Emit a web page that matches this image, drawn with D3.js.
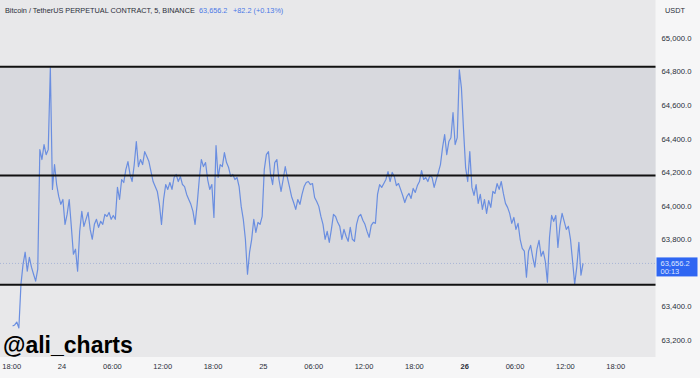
<!DOCTYPE html>
<html>
<head>
<meta charset="utf-8">
<script src="https://cdn.jsdelivr.net/npm/d3@7"></script>
<style>
  body { margin: 0; background: #f6f6f7; }
  svg { display: block; font-family: "Liberation Sans", Arial, sans-serif; }
</style>
</head>
<body>
<svg id="drawing_region"></svg>
<script>
// BTCUSDT perpetual, sampled every 15 minutes from the 5 min chart
const startTime = '2024-09-23T18:10:00Z';
const stepMinutes = 15;
const prices = [
    63284, 63290, 63307, 63272, 63533, 63652, 63723, 63610, 63693, 63634,
    63592, 63551, 63622, 64334, 64275, 64364, 64304, 64334, 64821, 64097,
    64245, 64126, 64055, 64008, 64037, 63889, 63948, 64037, 63877, 63711,
    63741, 63610, 63847, 63966, 63877, 63919, 63960, 63859, 63800, 63889,
    63919, 63871, 63907, 63889, 63948, 63936, 63960, 63919, 63942, 63919,
    64109, 64037, 64156, 64138, 64215, 64263, 64186, 64144, 64245, 64382,
    64233, 64275, 64245, 64322, 64293, 64263, 64203, 64144, 64114, 64085,
    64008, 63889, 64037, 64126, 64097, 64138, 64097, 64168, 64186, 64144,
    64174, 64126, 64114, 64067, 64037, 64008, 63966, 63889, 64008, 64156,
    64275, 64233, 64257, 64156, 64097, 64126, 63930, 64358, 64168, 64245,
    64233, 64316, 64257, 64227, 64174, 64186, 64156, 64168, 64114, 63996,
    63919, 63800, 63592, 63723, 63800, 63919, 63841, 63901, 63889, 63936,
    64215, 64304, 64322, 64186, 64126, 64257, 64275, 64156, 64085, 64156,
    64233, 64168, 64114, 64055, 64019, 63978, 64037, 64008, 64067, 64114,
    64138, 64144, 64126, 64132, 64049, 64025, 63996, 63936, 63889, 63800,
    63847, 63782, 63859, 63948, 63936, 63901, 63877, 63800, 63859, 63818,
    63788, 63871, 63800, 63788, 63889, 63936, 63948, 63913, 63889, 63847,
    63812, 63883, 63901, 63895, 64067, 64126, 64109, 64132, 64156, 64203,
    64144, 64198, 64174, 64120, 64132, 64097, 64061, 64019, 64055, 64073,
    64043, 64103, 64079, 64120, 64144, 64209, 64156, 64168, 64144, 64180,
    64168, 64109, 64156, 64198, 64245, 64346, 64423, 64304, 64382, 64405,
    64554, 64364, 64405, 64809, 64702, 64453, 64227, 64144, 64322, 64109,
    64061, 64126, 64014, 64067, 63978, 64037, 63954, 64031, 63990, 64085,
    64073, 64132, 64097, 64144, 64073, 64014, 63990, 63954, 63895, 63930,
    63859, 63895, 63800, 63746, 63729, 63574, 63729, 63764, 63693, 63634,
    63741, 63794, 63699, 63729, 63669, 63545, 63812, 63942, 63907, 63942,
    63752, 63883, 63954, 63907, 63859, 63877, 63800, 63669, 63533, 63634,
    63782, 63586, 63656.2
];

// drawn horizontal levels (top, middle, bottom of the range)
const levels = [64828, 64180, 63530];
const yTicks = [63200, 63400, 63800, 64000, 64200, 64400, 64600, 64800, 65000];
const xTicks = [
    '2024-09-23T18:00Z', '2024-09-24T00:00Z', '2024-09-24T06:00Z', '2024-09-24T12:00Z',
    '2024-09-24T18:00Z', '2024-09-25T00:00Z', '2024-09-25T06:00Z', '2024-09-25T12:00Z',
    '2024-09-25T18:00Z', '2024-09-26T00:00Z', '2024-09-26T06:00Z', '2024-09-26T12:00Z',
    '2024-09-26T18:00Z'
];
const title = 'Bitcoin / TetherUS PERPETUAL CONTRACT, 5, BINANCE';
const lastPrice = 63656.2;
const change = '+82.2 (+0.13%)';
const countdown = '00:13';

const W = 700, H = 378;
const plotW = 655.5, plotH = 357;

const t0 = new Date(startTime);
const data = prices.map((p, i) => ({
    t: new Date(t0.getTime() + i * stepMinutes * 60000),
    p: p
}));

const svg = d3.select('#drawing_region')
    .attr('width', W)
    .attr('height', H);

const xscale = d3.scaleUtc()
    .domain([new Date('2024-09-23T16:40:00Z'), new Date('2024-09-26T22:48:00Z')])
    .range([0, plotW]);

const yscale = d3.scaleLinear()
    .domain([63099, 65225])
    .range([plotH, 0]);

// backgrounds
svg.append('rect')
    .attr('width', W).attr('height', H)
    .attr('fill', '#f6f6f7');

svg.append('rect')
    .attr('width', plotW).attr('height', plotH)
    .attr('fill', '#e8e8ea');

svg.append('rect')
    .attr('x', 0)
    .attr('y', yscale(levels[0]))
    .attr('width', plotW)
    .attr('height', yscale(levels[2]) - yscale(levels[0]))
    .attr('fill', '#d8d9de');

// last price dotted line
svg.append('line')
    .attr('x1', 0).attr('x2', plotW)
    .attr('y1', yscale(lastPrice)).attr('y2', yscale(lastPrice))
    .attr('stroke', '#a9b6d6')
    .attr('stroke-width', 1)
    .attr('stroke-dasharray', '1,2');

const line = d3.line()
    .x(d => xscale(d.t))
    .y(d => yscale(d.p));

svg.append('path')
    .datum(data)
    .attr('d', line)
    .attr('fill', 'none')
    .attr('stroke', '#6a8ee0')
    .attr('stroke-width', 1.2)
    .attr('stroke-linejoin', 'round');

svg.selectAll('.level')
    .data(levels)
    .join('line')
    .attr('class', 'level')
    .attr('x1', 0).attr('x2', plotW)
    .attr('y1', d => yscale(d)).attr('y2', d => yscale(d))
    .attr('stroke', '#111')
    .attr('stroke-width', 2);

// header
const header = svg.append('text')
    .attr('x', 5)
    .attr('y', 13)
    .style('font-size', '7.3px');
header.append('tspan')
    .attr('fill', '#2a2e39')
    .text(title);
header.append('tspan')
    .attr('x', 199)
    .attr('fill', '#4b78e6')
    .text(d3.format(',.1f')(lastPrice));
header.append('tspan')
    .attr('x', 233)
    .attr('fill', '#4b78e6')
    .text(change);

// watermark
svg.append('text')
    .attr('x', 3)
    .attr('y', 353)
    .style('font-size', '23px')
    .style('font-weight', 'bold')
    .attr('fill', '#000')
    .text('@ali_charts');

// y axis
const yaxis = d3.axisRight(yscale)
    .tickValues(yTicks)
    .tickSize(0)
    .tickPadding(6)
    .tickFormat(d3.format(',.1f'));

const yaxis_group = svg.append('g')
    .attr('transform', `translate(${plotW}, 0)`)
    .call(yaxis);
yaxis_group.select('.domain').remove();
yaxis_group.selectAll('text')
    .style('font-size', '7.7px')
    .style('font-family', '"Liberation Sans", Arial, sans-serif')
    .attr('fill', '#2a2e39');

svg.append('text')
    .attr('x', 665)
    .attr('y', 13)
    .style('font-size', '7.3px')
    .attr('fill', '#2a2e39')
    .text('USDT');

// x axis
const fmtTick = d => d.getUTCHours() === 0 ? d3.utcFormat('%-d')(d) : d3.utcFormat('%H:%M')(d);
const xaxis = d3.axisBottom(xscale)
    .tickValues(xTicks.map(s => new Date(s)))
    .tickSize(0)
    .tickPadding(7)
    .tickFormat(fmtTick);

const xaxis_group = svg.append('g')
    .attr('transform', `translate(0, ${plotH})`)
    .call(xaxis);
xaxis_group.select('.domain').remove();
xaxis_group.selectAll('text')
    .style('font-size', '7.5px')
    .style('font-family', '"Liberation Sans", Arial, sans-serif')
    .attr('fill', '#2a2e39')
    .style('font-weight', d => d3.utcFormat('%d %H')(d) === '26 00' ? 'bold' : 'normal');

// last price label on the axis
const yLast = yscale(lastPrice);
svg.append('rect')
    .attr('x', plotW + 1)
    .attr('y', yLast - 6)
    .attr('width', 41)
    .attr('height', 19)
    .attr('fill', '#2f66f2');
svg.append('text')
    .attr('x', plotW + 5)
    .attr('y', yLast + 2.5)
    .style('font-size', '7.5px')
    .attr('fill', '#dfe7ff')
    .text(d3.format(',.1f')(lastPrice));
svg.append('text')
    .attr('x', plotW + 5)
    .attr('y', yLast + 10.5)
    .style('font-size', '7.5px')
    .attr('fill', '#dfe7ff')
    .text(countdown);
</script>
</body>
</html>
